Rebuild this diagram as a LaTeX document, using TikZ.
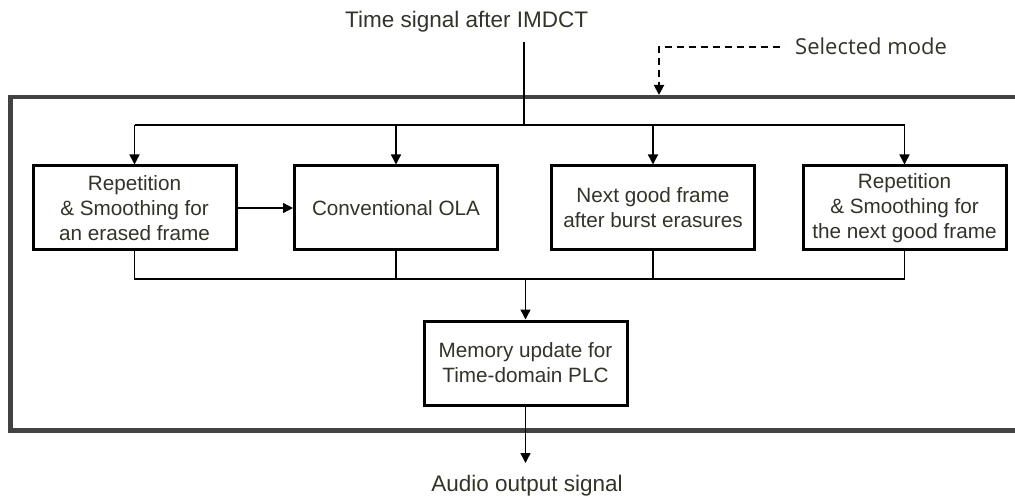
\documentclass[tikz,border=0pt]{standalone}
\usepackage{fontspec}
\setmainfont{Liberation Sans}
\newfontfamily\smfont{Open Sans}
\usetikzlibrary{arrows.meta,calc}
\definecolor{txt}{HTML}{33332A}
\definecolor{framec}{HTML}{424242}
\begin{document}
\begin{tikzpicture}[x=1pt,y=-1pt,
  blk/.style={draw=black,line width=3pt,minimum width=203pt,minimum height=84pt,
    align=center,text=txt,font=\fontsize{20.7}{25}\selectfont,inner sep=0pt,fill=white},
  conn/.style={draw=black,line width=1.4pt},
  arr/.style={conn,-{Triangle[length=10pt,width=10pt]}},
  lbl/.style={text=txt,font=\fontsize{22.5}{26}\selectfont,inner sep=0pt}]
\useasboundingbox (0,0) rectangle (1015,497);
% outer frame
\draw[framec,line width=4.5pt] (10.5,97) rectangle (1045,430.5);
% boxes
\node[blk] (b1) at (134.5,208) {Repetition\\\& Smoothing for\\an erased frame};
\node[blk] (b2) at (396,208) {Conventional OLA};
\node[blk] (b3) at (653,208) {Next good frame\\after burst erasures};
\node[blk] (b4) at (904.5,208) {Repetition\\\& Smoothing for\\the next good frame};
\node[blk] (m) at (525.5,363) {Memory update for\\Time-domain PLC};
% labels
\node[lbl,anchor=base west] (tin) at (345,28) {Time signal after IMDCT};
\node[lbl,anchor=base] (aout) at (527,491) {Audio output signal};
\node[text=txt,font=\smfont\fontsize{22}{26}\selectfont,inner sep=0pt,anchor=west] (sm) at (795,46) {Selected mode};
% coordinates
\coordinate (top) at (524,42);
\coordinate (split) at (524,125);
\coordinate (merge) at (525.5,279);
\coordinate (outend) at (525.5,463);
\coordinate (selc) at (659,47);
\coordinate (selend) at (659,95);
% input distribution
\draw[conn] (top) -- (split);
\draw[conn] (b1.north |- split) -- (b4.north |- split);
\draw[arr] (b1.north |- split) -- (b1.north);
\draw[arr] (b2.north |- split) -- (b2.north);
\draw[arr] (b3.north |- split) -- (b3.north);
\draw[arr] (b4.north |- split) -- (b4.north);
% b1 -> b2
\draw[arr] (b1.east) -- (b2.west);
% merge
\draw[conn] (b1.south) -- (b1.south |- merge) -- (b4.south |- merge) -- (b4.south);
\draw[conn] (b2.south) -- (b2.south |- merge);
\draw[conn] (b3.south) -- (b3.south |- merge);
\draw[arr] (merge) -- (m.north);
\draw[arr] (m.south) -- (outend);
% selected mode
\draw[line width=2pt,dash pattern=on 7pt off 5pt,-{Triangle[length=10pt,width=10pt]}]
  ($(sm.west)+(-15,1)$) -- (selc) -- (selend);
\end{tikzpicture}
\end{document}
